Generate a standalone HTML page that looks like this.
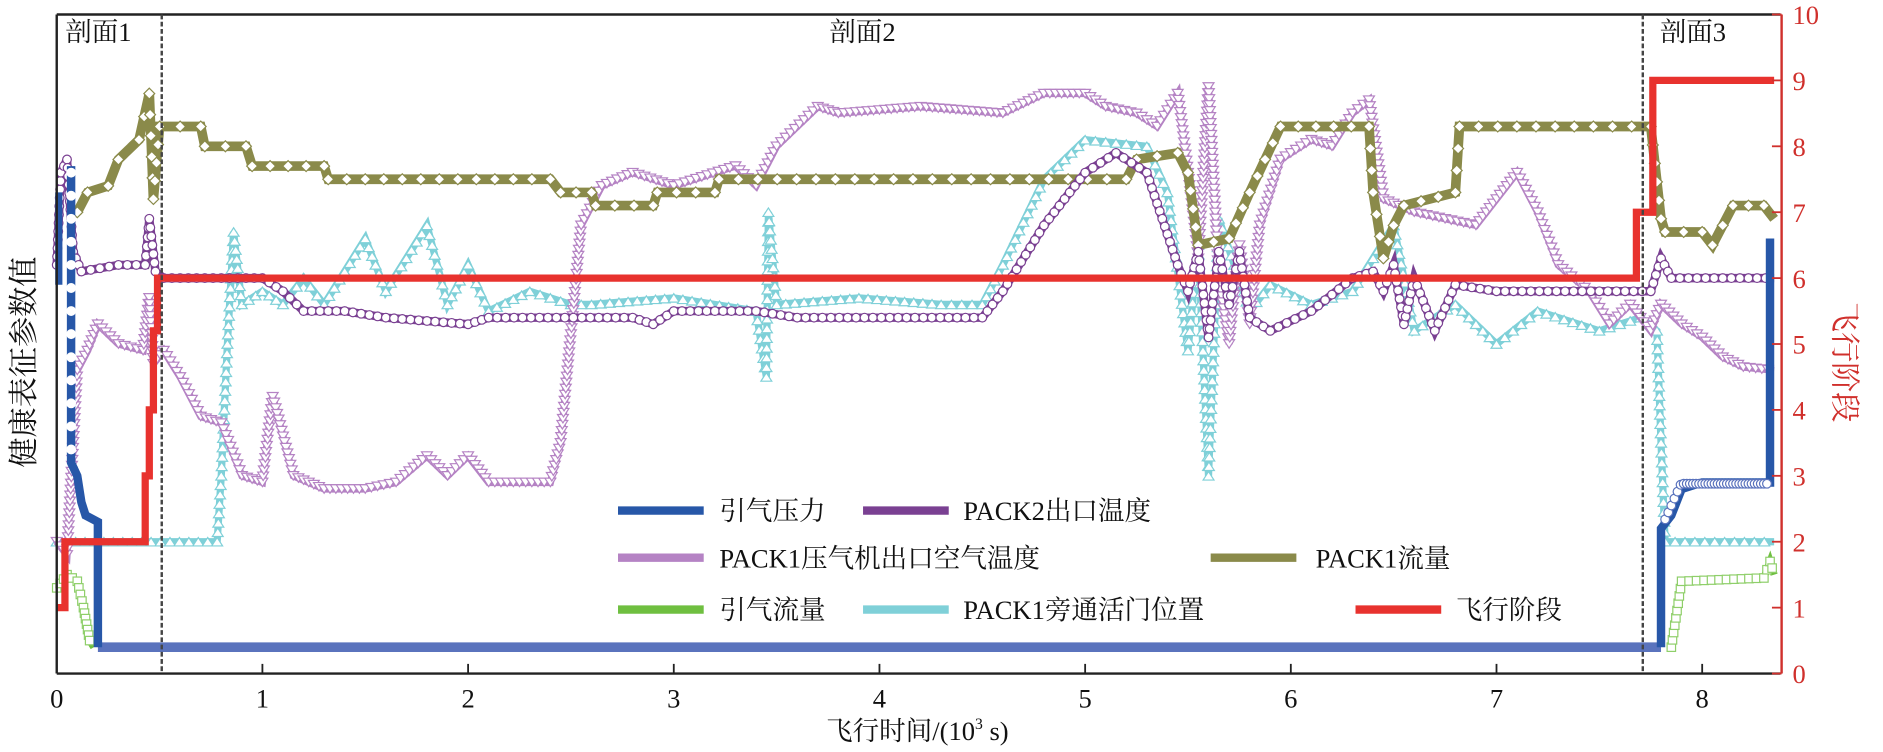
<!DOCTYPE html>
<html><head><meta charset="utf-8"><style>
html,body{margin:0;padding:0;background:#fff;}
svg{display:block;}
text{font-family:"Liberation Serif","Noto Serif CJK SC",serif;}
</style></head><body>
<svg id="s" width="1883" height="752" viewBox="0 0 1560 623" preserveAspectRatio="none" xmlns="http://www.w3.org/2000/svg">
<rect x="0" y="0" width="1560" height="623" fill="#fff"/>
<g id="data"></g>
<line x1="47" y1="12" x2="1475" y2="12" stroke="#222" stroke-width="2"/>
<line x1="47" y1="12" x2="47" y2="558" stroke="#222" stroke-width="2"/>
<line x1="47" y1="558" x2="1475" y2="558" stroke="#222" stroke-width="2"/>
<line x1="1476" y1="12" x2="1476" y2="558" stroke="#d0302c" stroke-width="2"/>
<line x1="134" y1="12" x2="134" y2="558" stroke="#444" stroke-width="2" stroke-dasharray="4,2"/>
<line x1="1361" y1="12" x2="1361" y2="558" stroke="#444" stroke-width="2" stroke-dasharray="4,2"/>
<g id="ticks"></g>
<g font-size="22" fill="#111">
<text x="54" y="34">剖面1</text>
<text x="687" y="34">剖面2</text>
<text x="1375" y="34">剖面3</text>
</g>
<text transform="translate(28,300) rotate(-90)" font-size="25" text-anchor="middle" fill="#111">健康表征参数值</text>
<text transform="translate(1520,300) rotate(90)" font-size="25" text-anchor="middle" fill="#d0302c">飞行阶段</text>
<text x="760" y="613" font-size="22" text-anchor="middle" fill="#111">飞行时间/(10<tspan font-size="13" dy="-9">3</tspan><tspan dy="9"> s)</tspan></text>
<g id="legend" font-size="22" fill="#111">
<text x="596" y="431">引气压力</text>
<text x="798" y="431">PACK2出口温度</text>
<text x="596" y="470">PACK1压气机出口空气温度</text>
<text x="1090" y="470">PACK1流量</text>
<text x="596" y="513">引气流量</text>
<text x="798" y="513">PACK1旁通活门位置</text>
<text x="1206" y="513">飞行阶段</text>
</g>
</svg>
<script>
var NS="http://www.w3.org/2000/svg";
function X(t){return 47+170.4*t;}
function Y(v){return 558-54.6*v;}
function el(n,a,p){var e=document.createElementNS(NS,n);for(var k in a)e.setAttribute(k,a[k]);(p||document.getElementById('data')).appendChild(e);return e;}
var tk=document.getElementById('ticks');
for(var i=0;i<=8;i++){var x=X(i);if(i>0)el('line',{x1:x,y1:558,x2:x,y2:550,stroke:'#222','stroke-width':1.5},tk);
 el('text',{x:x,y:586,'font-size':22,'text-anchor':'middle',fill:'#111'},tk).textContent=i;}
for(var i=0;i<=10;i++){var y=Y(i);el('line',{x1:1468,y1:y,x2:1476,y2:y,stroke:'#d0302c','stroke-width':1.5},tk);
 el('text',{x:1485,y:y+8,'font-size':22,fill:'#d0302c'},tk).textContent=i;}
function pts(a){return a.map(function(p){return X(p[0]).toFixed(1)+','+Y(p[1]).toFixed(1)}).join(' ');}
function marker(type,x,y,stroke,fill){
 if(type=='o')el('circle',{cx:x,cy:y,r:3.6,fill:fill,stroke:stroke,'stroke-width':1});
 else if(type=='v')el('path',{d:'M'+(x-4.5)+','+(y-3.5)+'h9l-4.5,7z',fill:fill,stroke:stroke,'stroke-width':1});
 else if(type=='^')el('path',{d:'M'+(x-4.5)+','+(y+3.5)+'h9l-4.5,-7z',fill:fill,stroke:stroke,'stroke-width':1});
 else if(type=='d')el('path',{d:'M'+x+','+(y-4.5)+'l4.5,4.5l-4.5,4.5l-4.5,-4.5z',fill:fill,stroke:stroke,'stroke-width':1});
 else if(type=='s')el('rect',{x:x-3.5,y:y-3.5,width:7,height:7,fill:fill,stroke:stroke,'stroke-width':1});
}
function series(a,col,w,type,mcol,sp){
 el('polyline',{points:pts(a),fill:'none',stroke:col,'stroke-width':w,'stroke-linejoin':'miter'});
 if(!type)return;
 for(var i=0;i<a.length-1;i++){var x0=X(a[i][0]),y0=Y(a[i][1]),x1=X(a[i+1][0]),y1=Y(a[i+1][1]);
  var L=Math.hypot(x1-x0,y1-y0),n=Math.max(1,Math.round(L/sp));
  for(var j=0;j<n;j++){var f=j/n;marker(type,x0+(x1-x0)*f,y0+(y1-y0)*f,mcol,'#fff');}}
}
var cyan=[[0,2],[0.78,2],[0.8,3],[0.83,5],[0.86,6.7],[0.9,5.6],[1.0,5.8],[1.1,5.6],[1.2,6.0],[1.3,5.6],[1.5,6.6],[1.6,5.8],[1.8,6.8],[1.9,5.6],[2.0,6.2],[2.1,5.5],[2.3,5.8],[2.5,5.6],[2.6,5.6],[3.0,5.7],[3.4,5.5],[3.45,4.5],[3.46,7.0],[3.5,5.6],[3.9,5.7],[4.3,5.6],[4.5,5.6],[4.6,6.2],[4.8,7.5],[5.0,8.1],[5.3,8.0],[5.4,7.3],[5.5,4.9],[5.55,6.5],[5.6,3.0],[5.65,6.9],[5.8,5.5],[5.9,5.9],[6.1,5.6],[6.3,5.8],[6.5,6.8],[6.6,5.2],[6.8,5.6],[7.0,5.0],[7.2,5.5],[7.5,5.2],[7.7,5.4],[7.78,5.2],[7.8,3.5],[7.82,2.0],[8.35,2.0]];
series(cyan,'#7fd0d8',6,'^','#7fd0d8',8);
var lp=[[0,2.0],[0.05,1.8],[0.1,4.6],[0.15,4.9],[0.2,5.3],[0.3,5.0],[0.42,4.9],[0.45,5.7],[0.47,4.7],[0.52,4.9],[0.6,4.5],[0.7,3.9],[0.8,3.8],[0.9,3.0],[1.0,2.9],[1.05,4.2],[1.15,3.0],[1.3,2.8],[1.5,2.8],[1.65,2.9],[1.8,3.3],[1.9,3.0],[2.0,3.3],[2.1,2.9],[2.4,2.9],[2.45,3.5],[2.55,6.8],[2.65,7.4],[2.8,7.6],[3.0,7.4],[3.3,7.7],[3.4,7.4],[3.5,8.0],[3.7,8.6],[3.8,8.5],[4.2,8.6],[4.6,8.5],[4.8,8.8],[5.0,8.8],[5.1,8.6],[5.25,8.5],[5.35,8.3],[5.45,8.8],[5.5,7.6],[5.55,6.3],[5.6,8.9],[5.65,6.0],[5.7,5.0],[5.75,6.5],[5.8,5.3],[5.85,6.8],[5.95,7.8],[6.1,8.1],[6.2,8.0],[6.3,8.5],[6.38,8.7],[6.45,7.2],[6.6,7.0],[6.9,6.8],[7.0,7.2],[7.1,7.6],[7.2,7.0],[7.3,6.2],[7.45,5.8],[7.55,5.3],[7.65,5.6],[7.75,5.2],[7.8,5.6],[7.9,5.3],[8.0,5.1],[8.1,4.8],[8.2,4.65],[8.35,4.6]];
series(lp,'#b583c4',6,'v','#b583c4',5);
var ol=[[0.1,7.0],[0.15,7.3],[0.25,7.4],[0.3,7.8],[0.4,8.1],[0.45,8.8],[0.47,7.2],[0.5,8.3],[0.7,8.3],[0.72,8.0],[0.92,8.0],[0.95,7.7],[1.3,7.7],[1.32,7.5],[2.4,7.5],[2.45,7.3],[2.6,7.3],[2.62,7.1],[2.9,7.1],[2.92,7.3],[3.2,7.3],[3.22,7.5],[5.2,7.5],[5.25,7.8],[5.45,7.9],[5.5,7.6],[5.55,6.5],[5.7,6.6],[5.8,7.3],[5.95,8.3],[6.38,8.3],[6.4,7.3],[6.45,6.3],[6.5,6.8],[6.55,7.1],[6.8,7.3],[6.82,8.3],[7.75,8.3],[7.8,6.9],[7.82,6.7],[8.0,6.7],[8.05,6.5],[8.15,7.1],[8.3,7.1],[8.35,6.9]];
series(ol,'#8a8a4a',8,'d','#8a8a4a',16);
var dp=[[0,6.2],[0.02,7.6],[0.05,7.8],[0.08,6.4],[0.12,6.1],[0.3,6.2],[0.43,6.2],[0.45,6.9],[0.48,6.1],[0.52,6.0],[1.0,6.0],[1.1,5.8],[1.2,5.5],[1.4,5.5],[1.6,5.4],[2.0,5.3],[2.1,5.4],[2.8,5.4],[2.9,5.3],[3.0,5.5],[3.4,5.5],[3.6,5.4],[4.5,5.4],[4.6,5.8],[4.8,6.8],[5.0,7.6],[5.15,7.9],[5.3,7.6],[5.45,6.2],[5.5,5.8],[5.55,6.4],[5.6,5.1],[5.65,6.4],[5.7,5.6],[5.75,6.4],[5.8,5.4],[5.9,5.2],[6.1,5.5],[6.3,6.0],[6.4,6.1],[6.45,5.8],[6.5,6.2],[6.55,5.3],[6.6,6.0],[6.7,5.2],[6.8,5.9],[7.0,5.8],[7.75,5.8],[7.8,6.3],[7.85,6.0],[8.35,6.0]];
series(dp,'#7a4092',7,'o','#7a4092',7);
series([[0,1.3],[0.05,1.5],[0.1,1.4],[0.13,1.0],[0.16,0.5],[0.18,0.4]],'#6fbf40',6,'s','#8fcf6a',5);
series([[7.85,0.4],[7.9,1.4],[8.3,1.45],[8.33,1.7],[8.35,1.5]],'#6fbf40',6,'s','#8fcf6a',6);
series([[0.2,0.4],[7.8,0.4]],'#5a73bd',8,null);
series([[0.01,5.9],[0.01,7.3]],'#2757a8',6,null);
series([[0.07,7.7],[0.07,3.2],[0.1,3.0],[0.12,2.6],[0.14,2.4],[0.2,2.3],[0.2,0.4]],'#2757a8',7,null);
series([[7.8,0.4],[7.8,2.2],[7.85,2.4],[7.9,2.8],[8.0,2.9],[8.33,2.9],[8.33,6.6]],'#2757a8',7,null);
for(var t=7.82;t<8.33;t+=0.015)marker('o',X(t),Y(t<7.9?2.2+(t-7.8)*7:2.88),'#5a73bd','#fff');
for(var v=3.4;v<7.6;v+=0.35)marker('o',X(0.07),Y(v),'#fff','#fff');
series([[0,1.0],[0.04,1.0],[0.04,2],[0.43,2],[0.43,3],[0.45,3],[0.45,4],[0.47,4],[0.47,5.2],[0.49,5.2],[0.49,6],[7.68,6],[7.68,7],[7.76,7],[7.76,9],[8.35,9]],'#e8322e',6,null);
var lg=document.getElementById('legend');
function ll(x,y,c){el('line',{x1:x,y1:y,x2:x+71,y2:y,stroke:c,'stroke-width':7},lg);}
ll(512,423,'#2757a8');ll(715,423,'#7a4092');ll(512,462,'#b583c4');ll(1003,462,'#8a8a4a');
ll(512,505,'#6fbf40');ll(715,505,'#7fd0d8');ll(1123,505,'#e8322e');
</script>
</body></html>
